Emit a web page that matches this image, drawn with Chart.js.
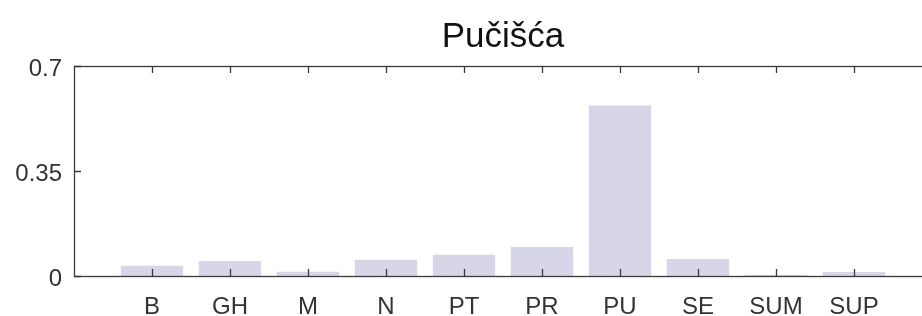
<!DOCTYPE html>
<html>
<head>
<meta charset="utf-8">
<script src="https://cdn.jsdelivr.net/npm/chart.js@4"></script>
<style>
  html, body { margin: 0; padding: 0; background: #fff; overflow: hidden; }
  #wrap { width: 940px; height: 316px; }
</style>
</head>
<body>
<div id="wrap"><canvas id="chart"></canvas></div>
<script>
// chart data
var categories = ['B', 'GH', 'M', 'N', 'PT', 'PR', 'PU', 'SE', 'SUM', 'SUP'];
var shares = [0.034, 0.05, 0.014, 0.054, 0.071, 0.097, 0.568, 0.057, 0.004, 0.013];
var yTicks = [0, 0.35, 0.7];
var titleText = 'Pučišća';

var FONT = 'Liberation Sans, Arial, Helvetica, sans-serif';
var AXIS_COLOR = '#3a3a3a';
var TEXT_COLOR = '#333333';

// MATLAB-like box with inward ticks on all four sides
var boxTicks = {
  id: 'boxTicks',
  afterDatasetsDraw: function (chart) {
    var ctx = chart.ctx, a = chart.chartArea;
    var xs = chart.scales.x, ys = chart.scales.y;
    var len = 7;
    ctx.save();
    ctx.strokeStyle = AXIS_COLOR;
    ctx.lineWidth = 1.3;
    ctx.beginPath();
    xs.ticks.forEach(function (t) {
      var px = Math.round(xs.getPixelForValue(t.value)) + 0.5;
      ctx.moveTo(px, a.bottom); ctx.lineTo(px, a.bottom - len);
      ctx.moveTo(px, a.top); ctx.lineTo(px, a.top + len);
    });
    ys.ticks.forEach(function (t) {
      var py = Math.round(ys.getPixelForValue(t.value)) + 0.5;
      ctx.moveTo(a.left, py); ctx.lineTo(a.left + len, py);
      ctx.moveTo(a.right, py); ctx.lineTo(a.right - len, py);
    });
    ctx.stroke();
    ctx.strokeRect(Math.round(a.left) + 0.5, Math.round(a.top) + 0.5,
      Math.round(a.right - a.left), Math.round(a.bottom - a.top));
    ctx.restore();
  }
};

new Chart(document.getElementById('chart'), {
  type: 'bar',
  data: {
    datasets: [{
      data: categories.map(function (c, i) { return { x: i + 1, y: shares[i] }; }),
      backgroundColor: '#d7d6e9',
      borderWidth: 0,
      barPercentage: 0.8,
      categoryPercentage: 1
    }]
  },
  options: {
    responsive: true,
    maintainAspectRatio: false,
    animation: false,
    events: [],
    layout: { padding: { left: 0, right: 8, top: 0, bottom: 0 } },
    plugins: {
      legend: { display: false },
      tooltip: { enabled: false },
      title: {
        display: true,
        text: titleText,
        fullSize: false,
        color: '#111',
        font: { family: FONT, size: 35, weight: 'normal' },
        padding: { top: 16, bottom: 8 }
      }
    },
    scales: {
      x: {
        type: 'linear',
        min: 0,
        max: 11,
        offset: false,
        afterBuildTicks: function (s) {
          s.ticks = categories.map(function (c, i) { return { value: i + 1 }; });
        },
        afterFit: function (s) { s.height = 40; },
        grid: { display: false, drawTicks: false, offset: false },
        border: { display: false },
        ticks: {
          autoSkip: false,
          maxRotation: 0,
          padding: 17,
          color: TEXT_COLOR,
          font: { family: FONT, size: 24 },
          callback: function (v) { return categories[v - 1] || ''; }
        }
      },
      y: {
        min: 0,
        max: 0.7,
        afterBuildTicks: function (s) {
          s.ticks = yTicks.map(function (v) { return { value: v }; });
        },
        afterFit: function (s) { s.width = 74; },
        grid: { display: false, drawTicks: false },
        border: { display: false },
        ticks: {
          padding: 12,
          labelOffset: 3,
          color: TEXT_COLOR,
          font: { family: FONT, size: 24 },
          callback: function (v) { return String(v); }
        }
      }
    }
  },
  plugins: [boxTicks]
});
</script>
</body>
</html>
